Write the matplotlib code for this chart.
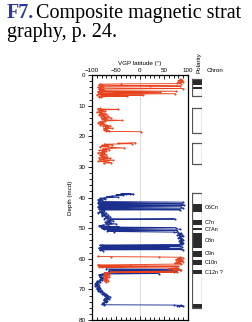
import numpy as np
import matplotlib
matplotlib.use('Agg')
import matplotlib.pyplot as plt
from matplotlib.ticker import MultipleLocator

# --- data: depth (mcd) and VGP latitude (deg) ---
red_a_depth = [1.4, 1.6, 1.8, 2.0, 2.2, 2.4, 2.6, 2.8, 2.9, 3.0, 3.1, 3.3, 3.5, 3.6, 3.7, 3.8,
               4.0, 4.2, 4.4, 4.6, 4.7, 4.9, 5.1, 5.3, 5.4, 5.5, 5.7, 5.9, 6.0, 6.1, 6.3, 6.5,
               6.6, 6.8, 6.9, 7.1, 7.3]
red_a_vgp = [84, 88, 80, 86, 90, 83, 78, 85, -40, -84, -80, -86, 20, 83, -82, -78,
             -88, -84, 90, -86, -80, -75, -84, 76, -88, -82, 42, -79, -86, 73, -84, -90,
             6, -80, -28, -86, -82]

red_b_depth = [10.9, 11.1, 11.2, 11.4, 11.6, 11.8, 12.0, 12.2, 12.4, 12.6, 12.8, 13.0, 13.2,
               13.4, 13.6, 13.8, 14.0, 14.2, 14.4, 14.6, 14.8, 15.0, 15.2, 15.4, 15.6, 15.8,
               16.0, 16.2, 16.4, 16.6, 16.8, 17.0, 17.2, 17.4, 17.6, 17.8, 18.0, 18.2, 18.4, 18.5]
red_b_vgp = [-84, -88, -45, -80, -86, -72, -82, -90, -76, -84, -70, -86, -78,
             -66, -82, -74, -60, -80, -70, -76, -38, -72, -84, -78, -88, -80,
             -74, -84, -70, -62, -78, -66, -72, -58, -76, -68, -74, -64, -70, 2]

red_c_depth = [22.1, 22.3, 22.4, 22.6, 22.8, 23.0, 23.2, 23.4, 23.6, 23.8, 24.0, 24.2, 24.4,
               24.6, 24.8, 25.0, 25.2, 25.4, 25.6, 25.8, 26.0, 26.2, 26.4, 26.6, 26.8, 27.0,
               27.2, 27.4, 27.6, 27.8, 28.0, 28.2, 28.4, 28.6, 28.8]
red_c_vgp = [-10, -46, -17, -74, -58, -80, -66, -84, -60, -33, -72, -78, -64,
             -86, -70, -80, -74, -88, -76, -82, -70, -84, -76, -80, -68, -86,
             -62, -78, -84, -56, -72, -88, -66, -60, -76]

red_d_depth = [59.2, 59.3, 59.4, 59.5, 59.7, 59.9, 60.1, 60.3, 60.5, 60.7, 60.9, 61.1, 61.3,
               61.5, 61.7, 61.9, 62.0, 62.2, 62.3, 62.4, 62.6, 62.7, 62.8, 63.0, 63.2, 63.4,
               63.6, 63.8, 64.0, 64.2, 64.4, 64.5, 64.7, 64.9, 65.1, 65.3, 65.5, 65.7, 65.9,
               66.1, 66.3, 66.5, 66.7, 66.9, 67.1, 67.3, 67.5]
red_d_vgp = [-88, -60, 40, 84, 90, 78, 86, 74, 88, 80, 90, 76, 84,
             72, 86, -20, -88, -82, 10, 80, -86, -40, -80, 78, 60, 82,
             70, 86, 66, -62, 78, -70, -74, -66, -72, -64, -76, -68, -72,
             -64, -70, -76, -68, -74, -66, -72, -70]

blue_a_depth = [38.7, 38.8, 38.9, 39.0, 39.1, 39.3, 39.5, 39.7, 39.9, 40.1, 40.3, 40.5, 40.7,
                40.9, 41.1, 41.3, 41.5, 41.6, 41.8, 42.0, 42.1, 42.3, 42.5, 42.6, 42.8, 43.0,
                43.1, 43.3, 43.5, 43.6, 43.8, 44.0, 44.1, 44.3, 44.5, 44.7, 44.9, 45.1, 45.3,
                45.5, 45.7, 45.9, 46.1, 46.3, 46.5, 46.7, 46.9, 47.0, 47.2, 47.4, 47.6, 47.8,
                48.0, 48.2, 48.4, 48.6, 48.8, 49.0, 49.2, 49.4, 49.5, 49.6, 49.8, 49.9, 50.1,
                50.3, 50.4, 50.6, 50.8, 50.9, 51.1, 51.3, 51.5, 51.7, 51.9, 52.1, 52.3, 52.5,
                52.7, 52.9, 53.1, 53.3, 53.5, 53.7, 53.9, 54.1, 54.3, 54.5, 54.7, 54.9, 55.1,
                55.3, 55.5, 55.6, 55.8, 55.9, 56.1, 56.2, 56.4, 56.5, 56.7, 56.8, 57.0, 57.1, 57.3]
blue_a_vgp = [-20, -40, -14, -30, -50, -36, -58, -70, -46, -76, -84, -72, -88,
              -80, -86, -78, 90, -84, -88, 88, -82, -86, 92, -80, -84, 86,
              -88, -76, 90, -82, -86, 84, -80, -74, -84, -78, -88, -70, -80,
              -76, -66, -80, -72, -62, -70, -66, -74, 72, -62, -68, -56, -64,
              -72, -60, -70, -50, -66, -78, -86, -70, -44, -82, 74, -80, -72,
              84, -76, -60, 78, -68, -54, 70, 80, 86, 82, 88, 78, 84,
              90, 82, 86, 80, 88, 84, 90, 86, 82, 88, 84, 90, 86,
              88, -80, -84, 84, -78, 88, -82, 60, -86, 86, -80, 90, -84, -78]

blue_b_depth = [63.3, 63.4, 63.6, 63.8, 63.9, 64.1, 64.3, 64.4, 64.6, 64.8, 65.0, 65.2, 65.4,
                65.6, 65.8, 66.0, 66.2, 66.4, 66.6, 66.8, 67.0, 67.2, 67.4, 67.6, 67.8, 68.0,
                68.2, 68.4, 68.6, 68.8, 69.0, 69.2, 69.4, 69.6, 69.8, 70.0, 70.2, 70.4, 70.6,
                70.8, 71.0, 71.2, 71.4, 71.6, 71.8, 72.0, 72.2, 72.4, 72.6, 72.8, 73.0, 73.2,
                73.4, 73.6, 73.8, 74.0, 74.2, 74.4, 74.6, 74.8, 75.0, 75.1, 75.2, 75.3, 75.4, 75.5]
blue_b_vgp = [-70, 80, -64, 84, -60, 76, -66, 70, -74, 40, -80, -86, -78,
              -84, -80, -84, -78, -82, -76, -84, -80, -86, -90, -84, -92, -88,
              -94, -86, -92, -88, -94, -86, -90, -84, -90, -86, -82, -88, -80,
              -84, -78, -74, -80, -70, -76, -66, -72, -62, -70, -66, -74, -64,
              -70, -76, -68, -74, -70, -78, -74, -80, -76, 70, 86, 78, 90, 82]

# polarity column: outlined intervals and black (normal) zones, depth top/bottom
polarity_boxes = [(1.4, 6.9), (10.9, 18.8), (22.1, 29.0), (38.6, 76.2)]
normal_zones = [(1.4, 3.2), (4.0, 4.7), (42.0, 44.7), (47.3, 48.8), (50.0, 50.6),
                (51.7, 56.6), (57.5, 59.3), (60.5, 62.0), (63.7, 65.0), (74.6, 76.2)]
chron_names = ['C6Cn', 'C7n', 'C7An', 'C8n', 'C9n', 'C10n', 'C12n ?']
chron_depths = [43.3, 48.0, 50.3, 54.1, 58.4, 61.2, 64.4]

red = '#e8431f'
blue = '#1b2f8f'
serif = 'Liberation Serif'
sans = 'Liberation Sans'

fig = plt.figure(figsize=(2.52, 3.22), dpi=100)

# caption (the reference crops it at the right edge)
fig.text(0.026, 0.943, 'F7.', color='#2b3a94', fontsize=14.5, fontweight='bold', family=serif)
fig.text(0.143, 0.943, 'Composite magnetic strat', fontsize=14.5, family=serif)
fig.text(0.026, 0.884, 'graphy, p. 24.', fontsize=14.5, family=serif)

ax = fig.add_axes([0.365, 0.006, 0.381, 0.761])
ax.axvline(0, color='#cccccc', lw=0.5, zorder=0)


def draw(d, v, c):
    ax.plot(v, d, color=c, lw=0.65, marker='o', ms=1.5, mew=0, zorder=2)


draw(blue_a_depth, blue_a_vgp, blue)
draw(blue_b_depth, blue_b_vgp, blue)
draw(red_a_depth, red_a_vgp, red)
draw(red_b_depth, red_b_vgp, red)
draw(red_c_depth, red_c_vgp, red)
draw(red_d_depth, red_d_vgp, red)

ax.set_xlim(-100, 100)
ax.set_ylim(80, 0)
ax.xaxis.tick_top()
ax.xaxis.set_label_position('top')
ax.set_xticks([-100, -50, 0, 50, 100])
ax.xaxis.set_minor_locator(MultipleLocator(10))
ax.yaxis.set_major_locator(MultipleLocator(10))
ax.yaxis.set_minor_locator(MultipleLocator(2))
ax.tick_params(which='both', labelsize=4.5, width=0.6, pad=1.5, bottom=True, top=True)
ax.tick_params(which='major', length=3)
ax.tick_params(which='minor', length=2)
ax.tick_params(axis='x', which='both', direction='in')
for lab in ax.get_xticklabels() + ax.get_yticklabels():
    lab.set_family(sans)
ax.set_xlabel('VGP latitude (°)', fontsize=4.5, labelpad=2, family=sans)
ax.set_ylabel('Depth (mcd)', fontsize=4.5, labelpad=4, family=sans)
for s in ax.spines.values():
    s.set_linewidth(0.9)

# polarity column
pax = fig.add_axes([0.762, 0.006, 0.04, 0.761])
pax.set_xlim(0, 1)
pax.set_ylim(80, 0)
pax.axis('off')
for top, bot in normal_zones:
    pax.fill_between([0, 1], top, bot, color='#2b2b2b', lw=0)
for top, bot in polarity_boxes:
    pax.plot([0, 1, 1, 0, 0], [top, top, bot, bot, top], color='#555555', lw=0.9)
for name, d in zip(chron_names, chron_depths):
    pax.text(1.3, d, name, fontsize=4, va='center', ha='left', family=sans)
pax.text(0.7, -0.5, 'Polarity', fontsize=4.5, rotation=90, ha='center', va='bottom', family=sans)
pax.text(1.4, -1.5, 'Chron', fontsize=4.5, ha='left', va='center', family=sans)

fig.savefig('out.png', dpi=100)
